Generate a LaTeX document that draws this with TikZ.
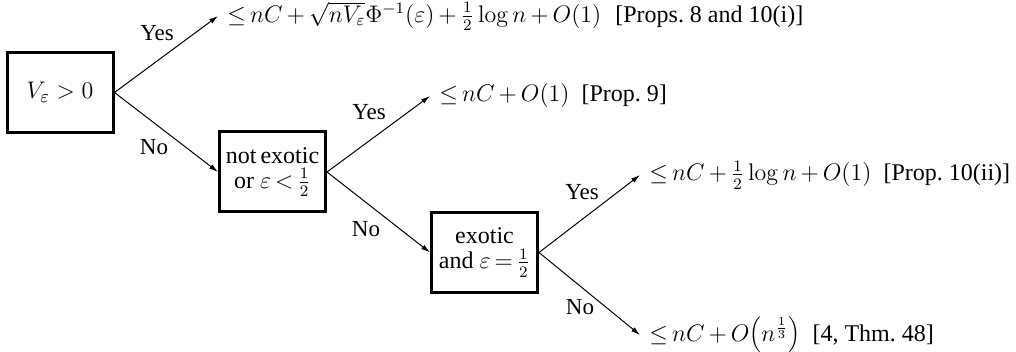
\documentclass[tikz,border=0pt]{standalone}
\usepackage[no-math]{fontspec}
\setmainfont{Liberation Serif}
\usetikzlibrary{arrows.meta}
\begin{document}
\begin{tikzpicture}[x=0.5pt,y=-0.5pt,
  box/.style={draw,line width=1.5pt,minimum width=53pt,minimum height=40pt,align=center,inner sep=1pt,font=\fontsize{12pt}{12.5pt}\selectfont},
  res/.style={anchor=west,inner sep=4.5pt,font=\fontsize{12pt}{13pt}\selectfont},
  lab/.style={inner sep=0pt,font=\fontsize{11.5pt}{13pt}\selectfont},
  arr/.style={line width=0.5pt,-{Latex[length=4.5pt,width=2.6pt]}}]
\useasboundingbox (0,0) rectangle (1016,352);
\node[box] (b1) at (60,92.5) {\fontsize{13pt}{13pt}\selectfont$V_\varepsilon>0$};
\node[box] (b2) at (272.5,172) {not\,exotic\\ or $\varepsilon\,{<}\,\frac12$};
\node[box] (b3) at (484.5,252.5) {exotic\\ and $\varepsilon\,{=}\,\frac12$};
\node[res] (r1) at (218,16) {${\le}\,nC\,{+}\,\sqrt{nV_\varepsilon}\Phi^{-1}(\varepsilon)\,{+}\,\frac12\log n\,{+}\,O(1)$\hspace{7pt}[Props.~8 and~10(i)]};
\node[res] (r2) at (430,96) {${\le}\,nC\,{+}\,O(1)$\hspace{6pt}[Prop.~9]};
\node[res] (r3) at (640,175) {${\le}\,nC\,{+}\,\frac12\log n\,{+}\,O(1)$\hspace{6pt}[Prop.~10(ii)]};
\node[res] (r4) at (640,335) {${\le}\,nC\,{+}\,O\Bigl(n^{\frac13}\Bigr)$\hspace{6pt}[4, Thm.~48]};
\draw[arr] (b1.east) -- (r1.west);
\draw[arr] (b1.east) -- (b2.west);
\draw[arr] (b2.east) -- (r2.west);
\draw[arr] (b2.east) -- (b3.west);
\draw[arr] (b3.east) -- (r3.west);
\draw[arr] (b3.east) -- (r4.west);
\node[lab] (y1) at (157,33) {Yes};
\node[lab] (n1) at (154,147) {No};
\node[lab] (y2) at (369,112) {Yes};
\node[lab] (n2) at (366,229) {No};
\node[lab] (y3) at (582,192) {Yes};
\node[lab] (n3) at (580,307) {No};
\end{tikzpicture}
\end{document}
